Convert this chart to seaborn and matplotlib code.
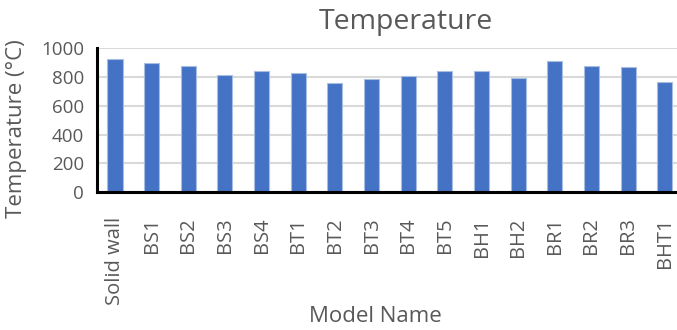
import matplotlib
matplotlib.use("Agg")
import matplotlib.pyplot as plt
import seaborn as sns
import pandas as pd

# Peak temperature for each wall model
models = ["Solid wall", "BS1", "BS2", "BS3", "BS4", "BT1", "BT2", "BT3",
          "BT4", "BT5", "BH1", "BH2", "BR1", "BR2", "BR3", "BHT1"]
temperatures = [923, 896, 877, 812, 842, 831, 761, 787,
                810, 840, 840, 796, 912, 880, 872, 764]
y_ticks = [0, 200, 400, 600, 800, 1000]

df = pd.DataFrame({"Model Name": models, "Temperature": temperatures})

sns.set_theme(style="white")
plt.rcParams["font.family"] = ["Open Sans", "DejaVu Sans"]
grey = "#595959"

fig = plt.figure(figsize=(6.77, 3.30), dpi=100)
ax = fig.add_axes([0.1428, 0.4173, 1.009 - 0.1428, 0.8536 - 0.4173])

sns.barplot(data=df, x="Model Name", y="Temperature", ax=ax,
            color="#4472C4", saturation=1, width=0.41,
            edgecolor="#a9bde3", linewidth=0.8, zorder=3)

ax.set_ylim(0, 1000)
ax.set_yticks(y_ticks)
ax.set_xlim(-0.5, len(models) - 0.5)
ax.yaxis.grid(True, color="#d9d9d9", linewidth=1.5, zorder=0)
ax.set_axisbelow(True)

for side in ("top", "right"):
    ax.spines[side].set_visible(False)
for side in ("left", "bottom"):
    ax.spines[side].set_color("black")
    ax.spines[side].set_linewidth(2.2)
    ax.spines[side].set_zorder(5)

ax.tick_params(axis="y", labelsize=13.5, colors=grey, length=0, pad=9)
ax.tick_params(axis="x", labelsize=14.5, colors=grey, length=0, pad=18)
for lbl in ax.get_xticklabels():
    lbl.set_rotation(90)
    lbl.set_va("top")
    lbl.set_ha("center")

ax.set_xlabel("")
ax.set_ylabel("")
fig.text(375 / 677, 1 - 317 / 330, "Model Name", ha="center", va="center",
         fontsize=16, color=grey)
fig.text(17 / 677, 1 - 129 / 330, "Temperature (°C)", ha="center", va="center",
         rotation=90, fontsize=16, color=grey)
fig.text(406 / 677, 1 - 22 / 330, "Temperature", ha="center", va="center",
         fontsize=20.5, color=grey)

fig.savefig("out.png", dpi=100)
